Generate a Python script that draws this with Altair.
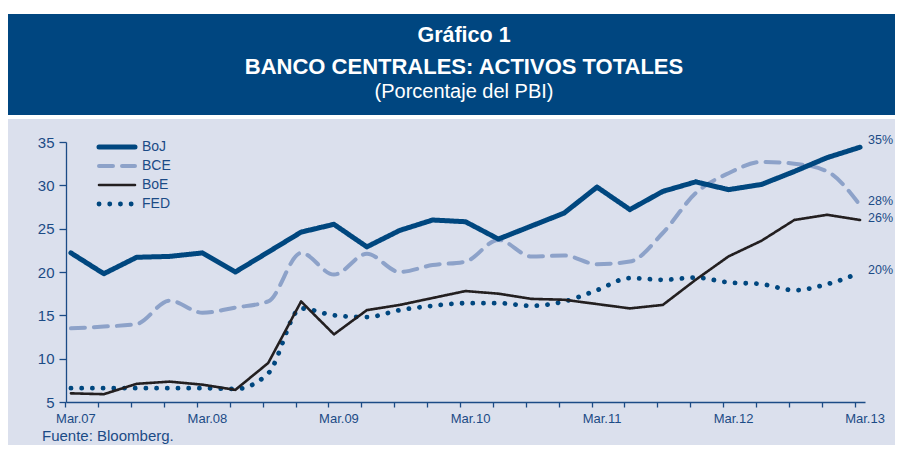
import altair as alt
import pandas as pd

# ---- data -------------------------------------------------------------
quarters = [
    "Mar.07", "Jun.07", "Set.07", "Dic.07",
    "Mar.08", "Jun.08", "Set.08", "Dic.08",
    "Mar.09", "Jun.09", "Set.09", "Dic.09",
    "Mar.10", "Jun.10", "Set.10", "Dic.10",
    "Mar.11", "Jun.11", "Set.11", "Dic.11",
    "Mar.12", "Jun.12", "Set.12", "Dic.12",
    "Mar.13",
]
series_names = ["BoJ", "BCE", "BoE", "FED"]

boj = [22.2, 19.8, 21.7, 21.8, 22.2, 20.0, 22.3, 24.6, 25.5, 22.9, 24.8, 26.0, 25.8,
       23.8, 25.3, 26.8, 29.8, 27.2, 29.3, 30.4, 29.5, 30.1, 31.6, 33.2, 34.4]
bce = [13.5, 13.7, 14.0, 16.7, 15.3, 15.9, 16.6, 22.2, 19.7, 22.1, 20.0, 20.8, 21.2,
       23.7, 21.8, 21.9, 20.9, 21.2, 24.5, 29.1, 31.4, 32.7, 32.5, 31.6, 27.7]
boe = [6.0, 5.9, 7.1, 7.35, 7.0, 6.4, 9.5, 16.6, 12.8, 15.6, 16.2, 17.0, 17.8,
       17.5, 16.9, 16.8, 16.3, 15.8, 16.2, 19.1, 21.8, 23.6, 26.0, 26.6, 26.0]
fed = [6.6, 6.6, 6.6, 6.6, 6.6, 6.5, 8.3, 15.8, 15.0, 14.8, 15.6, 16.1, 16.4,
       16.4, 16.1, 16.6, 17.9, 19.3, 19.1, 19.35, 18.8, 18.6, 17.9, 18.6, 19.9]

end_labels = ["35%", "28%", "26%", "20%"]
end_levels = [35, 28, 26, 20]
y_ticks = [5, 10, 15, 20, 25, 30, 35]

title_lines = ["Gráfico 1", "BANCO CENTRALES: ACTIVOS TOTALES", "(Porcentaje del PBI)"]
source_note = "Fuente: Bloomberg."

# ---- styles -----------------------------------------------------------
DARK = "#00477f"
LIGHT = "#8da2c9"
BLACK = "#231f20"
TXT = "#1b4b86"
BG = "#dbe0ed"
BANNER = "#004680"
NARROW = "'Liberation Sans Narrow', 'Arial Narrow', 'Liberation Sans', sans-serif"
WIDE = "'Liberation Sans', Arial, sans-serif"

rows = []
for name, vals in zip(series_names, [boj, bce, boe, fed]):
    for q, v in zip(quarters, vals):
        rows.append({"serie": name, "quarter": q, "value": v})
df = pd.DataFrame(rows)

x_enc = alt.X(
    "quarter:N",
    sort=quarters,
    scale=alt.Scale(type="point", domain=quarters, padding=0.15),
    axis=alt.Axis(
        title=None, labelAngle=0, grid=False,
        labelExpr="indexof(datum.value, 'Mar') === 0 ? datum.value : ''",
        labelOverlap=False, tickSize=5, tickOffset=-5.5, labelOffset=10,
        labelPadding=5, labelFont=NARROW, labelFontSize=13, labelColor=TXT,
        domainColor=TXT, tickColor=TXT, domainWidth=1.3, tickWidth=1.3,
    ),
)
y_enc = alt.Y(
    "value:Q",
    scale=alt.Scale(domain=[5, 35], nice=False, zero=False),
    axis=alt.Axis(
        title=None, values=y_ticks, grid=False, tickSize=7, labelPadding=5,
        labelFont=NARROW, labelFontSize=15, labelColor=TXT,
        domainColor=TXT, tickColor=TXT, domainWidth=1.3, tickWidth=1.3,
    ),
)
color_enc = alt.Color(
    "serie:N", legend=None,
    scale=alt.Scale(domain=series_names, range=[DARK, LIGHT, BLACK, DARK]),
)
dash_enc = alt.StrokeDash(
    "serie:N", legend=None,
    scale=alt.Scale(domain=series_names, range=[[1, 0], [14, 9], [1, 0], [0.1, 10.6]]),
)
width_enc = alt.StrokeWidth(
    "serie:N", legend=None,
    scale=alt.Scale(type="ordinal", domain=series_names, range=[5, 4, 2.6, 4.8]),
)

base = alt.Chart(df)
smooth = base.transform_filter(
    alt.FieldOneOfPredicate(field="serie", oneOf=["BCE", "FED"])
).mark_line(interpolate="monotone", strokeCap="round").encode(
    x=x_enc, y=y_enc, color=color_enc, strokeDash=dash_enc, strokeWidth=width_enc,
)
straight = base.transform_filter(
    alt.FieldOneOfPredicate(field="serie", oneOf=["BoJ", "BoE"])
).mark_line(strokeCap="round", strokeJoin="round").encode(
    x=x_enc, y=y_enc, color=color_enc, strokeDash=dash_enc, strokeWidth=width_enc,
)

end_df = pd.DataFrame({"quarter": [quarters[-1]] * 4, "value": end_levels, "label": end_labels})
end_text = alt.Chart(end_df).mark_text(
    align="left", baseline="middle", dx=8, dy=-2, font=NARROW, fontSize=12.5, color=TXT
).encode(x=x_enc, y=y_enc, text="label:N")

main = alt.layer(smooth, straight, end_text)

# ---- legend (drawn through its own small scales) ----------------------
leg_rows = []
for name in series_names:
    for p in (0, 1):
        leg_rows.append({"serie": name, "pos": p})
leg_df = pd.DataFrame(leg_rows)
leg_x = alt.X("pos:Q", scale=alt.Scale(domain=[0, 1], range=[33, 69]), axis=None)
leg_y = alt.Y("serie:N", sort=series_names,
              scale=alt.Scale(type="point", domain=series_names, range=[5, 62], padding=0),
              axis=None)
leg_lines = alt.Chart(leg_df).mark_line(strokeCap="round").encode(
    x=leg_x, y=leg_y, color=color_enc, strokeDash=dash_enc, strokeWidth=width_enc,
    detail="serie:N",
)
leg_text = alt.Chart(pd.DataFrame({"serie": series_names, "pos": [1] * 4})).mark_text(
    align="left", baseline="middle", dx=7, font=NARROW, fontSize=14, color=TXT
).encode(x=leg_x, y=leg_y, text="serie:N")
legend = alt.layer(leg_lines, leg_text)

# ---- frame and titles -------------------------------------------------
one = pd.DataFrame({"k": [0]})
white_top = alt.Chart(one).mark_rect(color="white").encode(
    x=alt.value(-58), x2=alt.value(830), y=alt.value(-134), y2=alt.value(-128))
banner = alt.Chart(one).mark_rect(color=BANNER).encode(
    x=alt.value(-58), x2=alt.value(830), y=alt.value(-128), y2=alt.value(-27))
white_gap = alt.Chart(one).mark_rect(color="white").encode(
    x=alt.value(-58), x2=alt.value(830), y=alt.value(-27), y2=alt.value(-23))

t1 = alt.Chart(pd.DataFrame({"t": [title_lines[0]]})).mark_text(
    font=WIDE, fontWeight="bold", fontSize=21.5, color="white", baseline="middle"
).encode(text="t:N", x=alt.value(398), y=alt.value(-106))
t2 = alt.Chart(pd.DataFrame({"t": [title_lines[1]]})).mark_text(
    font=WIDE, fontWeight="bold", fontSize=22, color="white", baseline="middle"
).encode(text="t:N", x=alt.value(398), y=alt.value(-75))
t3 = alt.Chart(pd.DataFrame({"t": [title_lines[2]]})).mark_text(
    font=WIDE, fontSize=20, color="white", baseline="middle"
).encode(text="t:N", x=alt.value(398), y=alt.value(-50))
src = alt.Chart(pd.DataFrame({"t": [source_note]})).mark_text(
    font=NARROW, fontSize=15, color=TXT, baseline="middle", align="left"
).encode(text="t:N", x=alt.value(-24), y=alt.value(294))

chart = alt.layer(
    white_top, banner, white_gap, t1, t2, t3, src, main, legend
).resolve_scale(
    x="independent", y="independent"
).properties(
    width=799, height=260, background=BG,
    padding={"left": 58, "top": 134, "right": 30, "bottom": 43},
    autosize=alt.AutoSizeParams(type="none"),
).configure_view(
    strokeWidth=0
)

chart.save("out.html", embed_options={"renderer": "svg", "actions": False})
